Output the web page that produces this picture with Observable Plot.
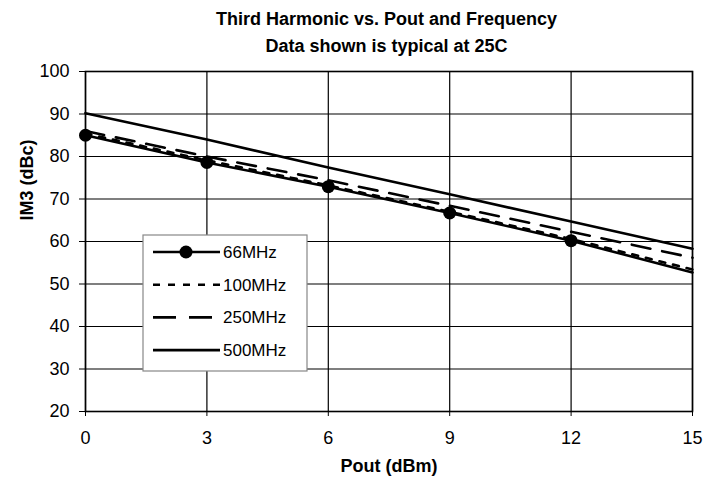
<!DOCTYPE html>
<html>
<head>
<meta charset="utf-8">
<script src="https://cdn.jsdelivr.net/npm/d3@7"></script>
<script src="https://cdn.jsdelivr.net/npm/@observablehq/plot@0.6"></script>
<style>
  html, body { margin: 0; padding: 0; background: #fff; }
  #title { width: 721px; box-sizing: border-box; padding-top: 6px; padding-left: 52px; text-align: center;
           font-family: "Liberation Sans", Arial, sans-serif; font-weight: bold; font-size: 18px; line-height: 27px; color: #000; height: 60px; }
</style>
</head>
<body>
<div id="title">Third Harmonic vs. Pout and Frequency<br>Data shown is typical at 25C</div>
<div id="chart"></div>
<script>
const pout = [0, 3, 6, 9, 12, 15];
const im3_66MHz  = [85.0, 78.6, 72.9, 66.7, 60.2, 52.7];
const im3_100MHz = [85.4, 79.1, 73.2, 67.0, 60.6, 53.4];
const im3_250MHz = [86.0, 80.0, 74.4, 68.4, 62.3, 56.2];
const im3_500MHz = [90.2, 84.0, 77.4, 71.1, 64.7, 58.3];
const seriesNames = ["66MHz", "100MHz", "250MHz", "500MHz"];
const xTicks = [0, 3, 6, 9, 12, 15];
const yTicks = [20, 30, 40, 50, 60, 70, 80, 90, 100];

const toRows = (vals) => pout.map((x, i) => ({x, y: vals[i]}));
const s66 = toRows(im3_66MHz), s100 = toRows(im3_100MHz), s250 = toRows(im3_250MHz), s500 = toRows(im3_500MHz);
const markers66 = s66.filter(d => d.x < 15);

const W = 721, H = 429;
const mt = 11, mb = 78, ml = 85, mr = 29;
const font = "Liberation Sans, Arial, sans-serif";

const chart = Plot.plot({
  width: W, height: H,
  marginTop: mt, marginBottom: mb, marginLeft: ml, marginRight: mr,
  style: {fontFamily: font, fontSize: "18px", color: "#000", background: "#fff"},
  x: {domain: [0, 15], ticks: xTicks},
  y: {domain: [20, 100], ticks: yTicks},
  marks: [
    Plot.gridX(xTicks, {stroke: "#000", strokeOpacity: 1, strokeWidth: 1.2}),
    Plot.gridY(yTicks, {stroke: "#000", strokeOpacity: 1, strokeWidth: 1.2}),
    Plot.axisX({ticks: xTicks, tickSize: 5, tickPadding: 15, label: null, fontSize: 18}),
    Plot.axisY({ticks: yTicks, tickSize: 6, tickPadding: 10, label: null, fontSize: 18}),
    Plot.line(s500, {x: "x", y: "y", stroke: "#000", strokeWidth: 2.6}),
    Plot.line(s250, {x: "x", y: "y", stroke: "#000", strokeWidth: 2.6, strokeDasharray: "19,12"}),
    Plot.line(s100, {x: "x", y: "y", stroke: "#000", strokeWidth: 2.6, strokeDasharray: "6,8"}),
    Plot.line(s66, {x: "x", y: "y", stroke: "#000", strokeWidth: 2.6}),
    Plot.dot(markers66, {x: "x", y: "y", r: 6.5, fill: "#000", stroke: "none"}),
    Plot.frame({stroke: "#000", strokeWidth: 1.6}),
    Plot.text(["Pout (dBm)"], {frameAnchor: "bottom", dy: 55, text: d => d, fontWeight: "bold", fontSize: 18, lineAnchor: "middle"}),
    Plot.text(["IM3 (dBc)"], {frameAnchor: "left", dx: -58, dy: -21, rotate: -90, text: d => d, fontWeight: "bold", fontSize: 18, lineAnchor: "middle"})
  ]
});

// Legend box drawn inside the SVG
const svg = d3.select(chart);
const lg = svg.append("g").attr("font-family", font).attr("font-size", 17).attr("text-anchor", "start");
const lx = 143, ly = 235 - 60, lw = 164, lh = 136;
lg.append("rect").attr("x", lx).attr("y", ly).attr("width", lw).attr("height", lh)
  .attr("fill", "#fff").attr("stroke", "#888").attr("stroke-width", 1.2);
const styles = [
  {dash: null, marker: true},
  {dash: "7,8", marker: false},
  {dash: "23,13", marker: false},
  {dash: null, marker: false}
];
seriesNames.forEach((name, i) => {
  const cy = ly + 17 + i * 32.7;
  lg.append("line").attr("x1", lx + 10).attr("x2", lx + 77).attr("y1", cy).attr("y2", cy)
    .attr("stroke", "#000").attr("stroke-width", 2.6).attr("stroke-dasharray", styles[i].dash);
  if (styles[i].marker) lg.append("circle").attr("cx", lx + 43).attr("cy", cy).attr("r", 6.5).attr("fill", "#000");
  lg.append("text").attr("x", lx + 80).attr("y", cy).attr("dy", "0.35em").attr("text-anchor", "start").text(name);
});

document.getElementById("chart").appendChild(chart);
</script>
</body>
</html>
